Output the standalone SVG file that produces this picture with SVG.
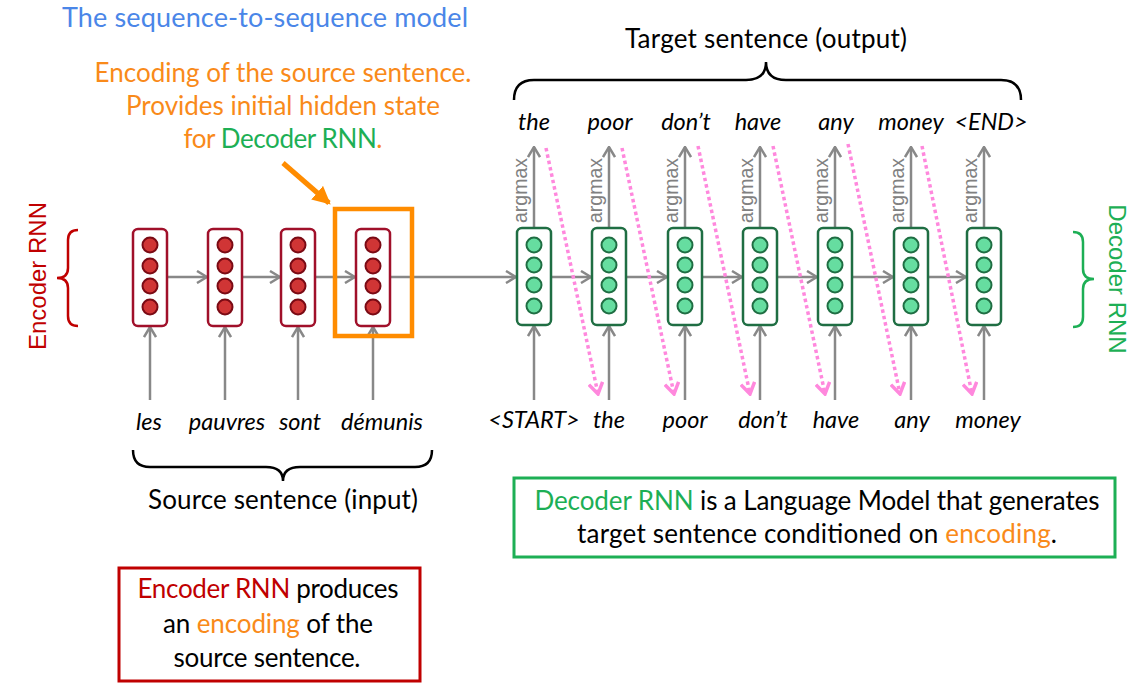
<svg xmlns="http://www.w3.org/2000/svg" width="1142" height="692" viewBox="0 0 1142 692">
<defs>
<style>
.t{font-family:Lato,"Liberation Sans",sans-serif;font-size:26px;fill:#000}
.it{font-family:Lato,"Liberation Sans",sans-serif;font-size:23.5px;font-style:italic;fill:#000;text-anchor:middle}
.ar{font-family:"Liberation Sans",Arial,sans-serif;font-size:19.5px;fill:#808080}
.side{font-family:"Liberation Sans",Arial,sans-serif;font-size:24px}
.or{fill:#F98A1A}.gr{fill:#1DAF55}.rd{fill:#C00000}
.ln{stroke:#888;stroke-width:2.5;fill:none}
.pk{stroke:#FF88DD;stroke-width:3.5;stroke-dasharray:3.5 3;fill:none}
.ec{fill:#fff;stroke:#A0102A;stroke-width:2.5}
.ed{fill:#D03535;stroke:#7A0A14;stroke-width:2}
.dc{fill:#fff;stroke:#1F6E43;stroke-width:2.5}
.dd{fill:#66DDA0;stroke:#1F6E43;stroke-width:2}
.br{fill:none;stroke-width:2.5}
</style>
<marker id="ga" viewBox="0 0 12 14" refX="11" refY="7" markerWidth="12" markerHeight="14" markerUnits="userSpaceOnUse" orient="auto"><path d="M1,1 L11,7 L1,13" fill="none" stroke="#888" stroke-width="2.5"/></marker>
<marker id="pa" viewBox="0 0 14 16" refX="12" refY="8" markerWidth="14" markerHeight="16" markerUnits="userSpaceOnUse" orient="auto"><path d="M1,1 L12,8 L1,15" fill="none" stroke="#FF88DD" stroke-width="3.5"/></marker>
<marker id="oa" viewBox="0 0 16 16" refX="14" refY="8" markerWidth="18" markerHeight="18" markerUnits="userSpaceOnUse" orient="auto"><path d="M0,0 L16,8 L0,16 Z" fill="#FF8C00"/></marker>
</defs>

<g id="title"><text class="t" x="62" y="27" style="fill:#4A86E8;font-size:27px" textLength="406">The sequence-to-sequence model</text></g>

<g id="encoding-note" text-anchor="middle">
<text class="t or" x="283" y="82" textLength="377">Encoding of the source sentence.</text>
<text class="t or" x="283" y="115" textLength="314">Provides initial hidden state</text>
<text class="t or" x="283" y="148" textLength="199">for <tspan class="gr">Decoder RNN</tspan>.</text>
</g>

<g id="connectors">
<line x1="283" y1="163" x2="329" y2="203" stroke="#FF8C00" stroke-width="5" marker-end="url(#oa)"/>
<line class="ln" x1="167" y1="277" x2="207" y2="277" marker-end="url(#ga)"/>
<line class="ln" x1="242" y1="277" x2="280" y2="277" marker-end="url(#ga)"/>
<line class="ln" x1="315" y1="277" x2="355" y2="277" marker-end="url(#ga)"/>
<line class="ln" x1="390" y1="277" x2="516" y2="277" marker-end="url(#ga)"/>
<line class="ln" x1="551" y1="277" x2="591" y2="277" marker-end="url(#ga)"/>
<line class="ln" x1="626" y1="277" x2="667" y2="277" marker-end="url(#ga)"/>
<line class="ln" x1="702" y1="277" x2="742" y2="277" marker-end="url(#ga)"/>
<line class="ln" x1="777" y1="277" x2="817" y2="277" marker-end="url(#ga)"/>
<line class="ln" x1="852" y1="277" x2="893" y2="277" marker-end="url(#ga)"/>
<line class="ln" x1="928" y1="277" x2="966" y2="277" marker-end="url(#ga)"/>
<line class="ln" x1="150" y1="400" x2="150" y2="327" marker-end="url(#ga)"/>
<line class="ln" x1="225" y1="400" x2="225" y2="327" marker-end="url(#ga)"/>
<line class="ln" x1="298" y1="400" x2="298" y2="327" marker-end="url(#ga)"/>
<line class="ln" x1="373" y1="400" x2="373" y2="327" marker-end="url(#ga)"/>
<line class="ln" x1="534" y1="400" x2="534" y2="326" marker-end="url(#ga)"/>
<line class="ln" x1="609" y1="400" x2="609" y2="326" marker-end="url(#ga)"/>
<line class="ln" x1="685" y1="400" x2="685" y2="326" marker-end="url(#ga)"/>
<line class="ln" x1="760" y1="400" x2="760" y2="326" marker-end="url(#ga)"/>
<line class="ln" x1="835" y1="400" x2="835" y2="326" marker-end="url(#ga)"/>
<line class="ln" x1="911" y1="400" x2="911" y2="326" marker-end="url(#ga)"/>
<line class="ln" x1="984" y1="400" x2="984" y2="326" marker-end="url(#ga)"/>
<line class="ln" x1="534" y1="228" x2="534" y2="147" marker-end="url(#ga)"/>
<line class="ln" x1="609" y1="228" x2="609" y2="147" marker-end="url(#ga)"/>
<line class="ln" x1="685" y1="228" x2="685" y2="147" marker-end="url(#ga)"/>
<line class="ln" x1="760" y1="228" x2="760" y2="147" marker-end="url(#ga)"/>
<line class="ln" x1="835" y1="228" x2="835" y2="147" marker-end="url(#ga)"/>
<line class="ln" x1="911" y1="228" x2="911" y2="147" marker-end="url(#ga)"/>
<line class="ln" x1="984" y1="228" x2="984" y2="147" marker-end="url(#ga)"/>
<line class="pk" x1="546" y1="148" x2="598" y2="394" marker-end="url(#pa)"/>
<line class="pk" x1="622" y1="148" x2="674" y2="394" marker-end="url(#pa)"/>
<line class="pk" x1="698" y1="146" x2="750" y2="394" marker-end="url(#pa)"/>
<line class="pk" x1="773" y1="146" x2="825" y2="394" marker-end="url(#pa)"/>
<line class="pk" x1="848" y1="144" x2="900" y2="394" marker-end="url(#pa)"/>
<line class="pk" x1="922" y1="146" x2="972" y2="394" marker-end="url(#pa)"/>
</g>

<g id="encoder-cells">
<g id="enc1"><rect class="ec" x="133" y="229" width="34" height="97" rx="5"/><circle class="ed" cx="150" cy="245" r="7.5"/><circle class="ed" cx="150" cy="266" r="7.5"/><circle class="ed" cx="150" cy="286" r="7.5"/><circle class="ed" cx="150" cy="307" r="7.5"/></g>
<g id="enc2"><rect class="ec" x="208" y="229" width="34" height="97" rx="5"/><circle class="ed" cx="225" cy="245" r="7.5"/><circle class="ed" cx="225" cy="266" r="7.5"/><circle class="ed" cx="225" cy="286" r="7.5"/><circle class="ed" cx="225" cy="307" r="7.5"/></g>
<g id="enc3"><rect class="ec" x="281" y="229" width="34" height="97" rx="5"/><circle class="ed" cx="298" cy="245" r="7.5"/><circle class="ed" cx="298" cy="266" r="7.5"/><circle class="ed" cx="298" cy="286" r="7.5"/><circle class="ed" cx="298" cy="307" r="7.5"/></g>
<g id="enc4"><rect class="ec" x="356" y="229" width="34" height="97" rx="5"/><circle class="ed" cx="373" cy="245" r="7.5"/><circle class="ed" cx="373" cy="266" r="7.5"/><circle class="ed" cx="373" cy="286" r="7.5"/><circle class="ed" cx="373" cy="307" r="7.5"/></g>
</g>
<g id="encoding-box"><rect x="335" y="209" width="77" height="127" fill="none" stroke="#FF8C00" stroke-width="4.5"/></g>

<g id="decoder-cells">
<g id="dec1"><rect class="dc" x="517" y="228" width="34" height="97" rx="5"/><circle class="dd" cx="534" cy="245" r="7.5"/><circle class="dd" cx="534" cy="265" r="7.5"/><circle class="dd" cx="534" cy="285" r="7.5"/><circle class="dd" cx="534" cy="306" r="7.5"/></g>
<g id="dec2"><rect class="dc" x="592" y="228" width="34" height="97" rx="5"/><circle class="dd" cx="609" cy="245" r="7.5"/><circle class="dd" cx="609" cy="265" r="7.5"/><circle class="dd" cx="609" cy="285" r="7.5"/><circle class="dd" cx="609" cy="306" r="7.5"/></g>
<g id="dec3"><rect class="dc" x="668" y="228" width="34" height="97" rx="5"/><circle class="dd" cx="685" cy="245" r="7.5"/><circle class="dd" cx="685" cy="265" r="7.5"/><circle class="dd" cx="685" cy="285" r="7.5"/><circle class="dd" cx="685" cy="306" r="7.5"/></g>
<g id="dec4"><rect class="dc" x="743" y="228" width="34" height="97" rx="5"/><circle class="dd" cx="760" cy="245" r="7.5"/><circle class="dd" cx="760" cy="265" r="7.5"/><circle class="dd" cx="760" cy="285" r="7.5"/><circle class="dd" cx="760" cy="306" r="7.5"/></g>
<g id="dec5"><rect class="dc" x="818" y="228" width="34" height="97" rx="5"/><circle class="dd" cx="835" cy="245" r="7.5"/><circle class="dd" cx="835" cy="265" r="7.5"/><circle class="dd" cx="835" cy="285" r="7.5"/><circle class="dd" cx="835" cy="306" r="7.5"/></g>
<g id="dec6"><rect class="dc" x="894" y="228" width="34" height="97" rx="5"/><circle class="dd" cx="911" cy="245" r="7.5"/><circle class="dd" cx="911" cy="265" r="7.5"/><circle class="dd" cx="911" cy="285" r="7.5"/><circle class="dd" cx="911" cy="306" r="7.5"/></g>
<g id="dec7"><rect class="dc" x="967" y="228" width="34" height="97" rx="5"/><circle class="dd" cx="984" cy="245" r="7.5"/><circle class="dd" cx="984" cy="265" r="7.5"/><circle class="dd" cx="984" cy="285" r="7.5"/><circle class="dd" cx="984" cy="306" r="7.5"/></g>
</g>

<g id="argmax-labels">
<text class="ar" transform="translate(527,223) rotate(-90)">argmax</text>
<text class="ar" transform="translate(602,223) rotate(-90)">argmax</text>
<text class="ar" transform="translate(678,223) rotate(-90)">argmax</text>
<text class="ar" transform="translate(753,223) rotate(-90)">argmax</text>
<text class="ar" transform="translate(828,223) rotate(-90)">argmax</text>
<text class="ar" transform="translate(904,223) rotate(-90)">argmax</text>
<text class="ar" transform="translate(977,223) rotate(-90)">argmax</text>
</g>

<g id="output-words">
<text class="it" x="534" y="130">the</text>
<text class="it" x="610" y="130">poor</text>
<text class="it" x="686" y="130">don’t</text>
<text class="it" x="758" y="130">have</text>
<text class="it" x="836" y="130">any</text>
<text class="it" x="911" y="130">money</text>
<text class="it" x="991" y="130">&lt;END&gt;</text>
</g>
<g id="decoder-input-words">
<text class="it" x="534" y="428">&lt;START&gt;</text>
<text class="it" x="609" y="428">the</text>
<text class="it" x="685" y="428">poor</text>
<text class="it" x="763" y="428">don’t</text>
<text class="it" x="836" y="428">have</text>
<text class="it" x="912" y="428">any</text>
<text class="it" x="988" y="428">money</text>
</g>
<g id="source-words">
<text class="it" x="149" y="430">les</text>
<text class="it" x="227" y="430">pauvres</text>
<text class="it" x="300" y="430">sont</text>
<text class="it" x="382" y="430">démunis</text>
</g>

<g id="source-brace">
<path class="br" stroke="#000" d="M133,450 Q133,467 150,467 L266,467 Q283,467 283,481 Q283,467 300,467 L415,467 Q432,467 432,450"/>
<text class="t" x="283" y="509" text-anchor="middle" textLength="270">Source sentence (input)</text>
</g>
<g id="target-brace">
<path class="br" stroke="#000" d="M514,100 Q514,80 534,80 L746,80 Q766,80 766,62 Q766,80 786,80 L1001,80 Q1021,80 1021,100"/>
<text class="t" x="766" y="48" text-anchor="middle" textLength="282">Target sentence (output)</text>
</g>
<g id="encoder-label">
<path class="br" stroke="#C00000" d="M78,230 Q68,230 68,240 L68,268 Q68,278 57,278 Q68,278 68,288 L68,316 Q68,326 78,326"/>
<text class="side rd" transform="translate(46,276) rotate(-90)" text-anchor="middle">Encoder RNN</text>
</g>
<g id="decoder-label">
<path class="br" stroke="#1DAF55" d="M1073,232 Q1083,232 1083,242 L1083,269 Q1083,279 1094,279 Q1083,279 1083,289 L1083,317 Q1083,327 1073,327"/>
<text class="side gr" transform="translate(1109,279) rotate(90)" text-anchor="middle">Decoder RNN</text>
</g>

<g id="decoder-note">
<rect x="514" y="478" width="601" height="79" fill="none" stroke="#1DAF55" stroke-width="3"/>
<text class="t" x="817" y="510" text-anchor="middle" textLength="565"><tspan class="gr">Decoder RNN</tspan> is a Language Model that generates</text>
<text class="t" x="817" y="543" text-anchor="middle" textLength="480">target sentence conditioned on <tspan class="or">encoding</tspan>.</text>
</g>
<g id="encoder-note">
<rect x="119" y="568" width="301" height="113" fill="none" stroke="#C00000" stroke-width="3"/>
<text class="t" x="268" y="598" text-anchor="middle" textLength="261"><tspan class="rd">Encoder RNN</tspan> produces</text>
<text class="t" x="268" y="633" text-anchor="middle" textLength="210">an <tspan class="or">encoding</tspan> of the</text>
<text class="t" x="267" y="667" text-anchor="middle" textLength="187">source sentence.</text>
</g>
</svg>
